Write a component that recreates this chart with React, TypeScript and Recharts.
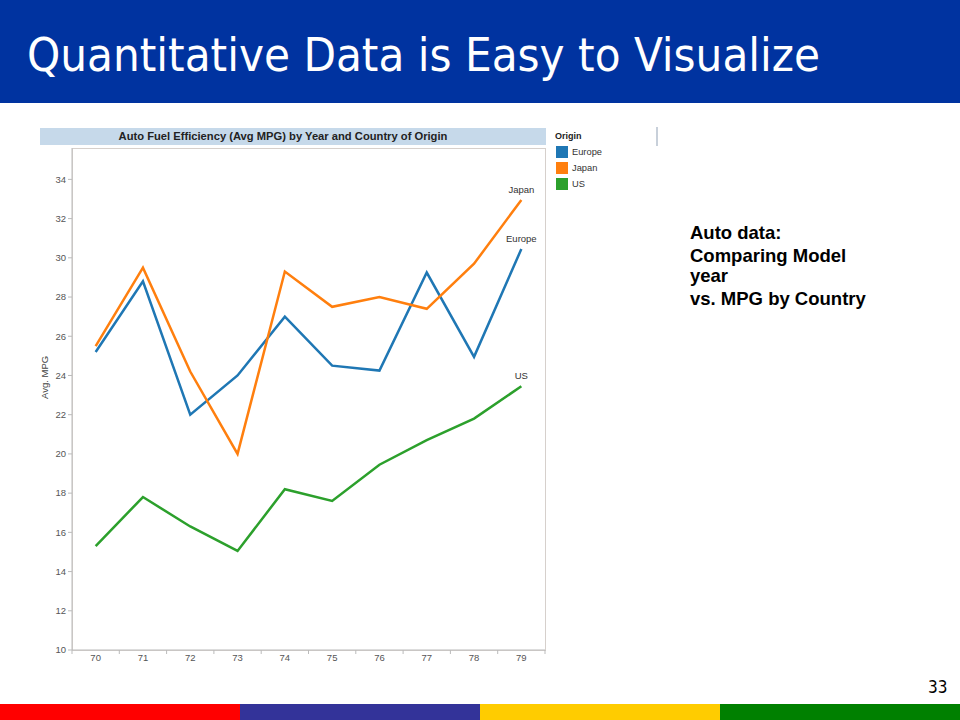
import { LineChart, Line, XAxis, YAxis, LabelList } from 'recharts'

const years = ['70', '71', '72', '73', '74', '75', '76', '77', '78', '79']
const europe = [25.2, 28.8, 22.0, 24.0, 27.0, 24.5, 24.25, 29.25, 24.95, 30.45]
const japan = [25.5, 29.5, 24.2, 20.0, 29.3, 27.5, 28.0, 27.4, 29.7, 32.95]
const us = [15.3, 17.8, 16.3, 15.05, 18.2, 17.6, 19.45, 20.7, 21.8, 23.45]
const yTicks = [10, 12, 14, 16, 18, 20, 22, 24, 26, 28, 30, 32, 34]
const legendItems = [
  { name: 'Europe', color: '#1f77b4' },
  { name: 'Japan', color: '#ff7f0e' },
  { name: 'US', color: '#2ca02c' },
]
const stripColors = ['#ff0000', '#333399', '#ffcc00', '#008000']

const data = years.map((yr, i) => ({ yr, Europe: europe[i], Japan: japan[i], US: us[i] }))

const FONT = '"Liberation Sans", Arial, sans-serif'
const SLIDE_FONT = '"DejaVu Sans Condensed", "DejaVu Sans", sans-serif'

function XTick(props: any) {
  const { x, y, payload, index } = props
  const half = payload?.offset || 23.65
  return (
    <g>
      <line x1={x - half} y1={y - 8} x2={x - half} y2={y - 4} stroke="#bbb" />
      {index === years.length - 1 && <line x1={x + half} y1={y - 8} x2={x + half} y2={y - 4} stroke="#bbb" />}
      <text x={x} y={y + 3} textAnchor="middle" fill="#555" fontSize={9.5} fontFamily={FONT}>{payload.value}</text>
    </g>
  )
}

const endLabel = (name: string) => (props: any) => {
  const { x, y, index } = props
  if (index !== years.length - 1) return null
  return (
    <text x={x} y={y - 7} textAnchor="middle" fill="#333" fontSize={9.5} fontFamily={FONT}>{name}</text>
  )
}

export default function App() {
  return (
    <div style={{ position: 'absolute', left: 0, top: 0, width: 960, height: 720, background: '#fff', overflow: 'hidden', fontFamily: FONT }}>
      {/* slide header */}
      <div style={{ position: 'absolute', left: 0, top: 0, width: 960, height: 103, background: '#0033a0' }} />
      <div style={{ position: 'absolute', left: 27, top: 27, color: '#fff', fontSize: 47, fontFamily: SLIDE_FONT, lineHeight: '56px', whiteSpace: 'nowrap' }}>
        Quantitative Data is Easy to Visualize
      </div>

      {/* chart title bar */}
      <div style={{ position: 'absolute', left: 40, top: 128, width: 486, paddingRight: 20, height: 17, background: '#c6d9ea', color: '#222', fontSize: 11.2, fontWeight: 'bold', textAlign: 'center', lineHeight: '17px', whiteSpace: 'nowrap' }}>
        Auto Fuel Efficiency (Avg MPG) by Year and Country of Origin
      </div>

      {/* plot frame */}
      <div style={{ position: 'absolute', left: 72, top: 148, width: 472, height: 501, border: '1px solid #d6d0cc' }} />

      <div style={{ position: 'absolute', left: 30, top: 140 }}>
        <LineChart width={640} height={530} data={data} margin={{ top: 8, right: 125, bottom: 0, left: 12 }}>
          <XAxis dataKey="yr" scale="band" height={20} tickLine={false} axisLine={{ stroke: '#bbb' }} tick={<XTick />} interval={0} />
          <YAxis
            width={30}
            domain={[10, 35.6]}
            ticks={yTicks}
            allowDataOverflow
            tick={{ fill: '#555', fontSize: 9.5, fontFamily: FONT }}
            tickLine={{ stroke: '#bbb' }}
            tickSize={4}
            axisLine={{ stroke: '#bbb' }}
            label={{ value: 'Avg. MPG', angle: -90, position: 'insideLeft', offset: 3, fill: '#444', fontSize: 9.5, fontFamily: FONT }}
          />
          {legendItems.map((s) => (
            <Line key={s.name} dataKey={s.name} stroke={s.color} strokeWidth={2.5} dot={false} isAnimationActive={false} type="linear">
              <LabelList content={endLabel(s.name)} />
            </Line>
          ))}
        </LineChart>
      </div>

      {/* legend */}
      <div style={{ position: 'absolute', left: 555, top: 131, fontSize: 9, fontWeight: 'bold', color: '#222' }}>Origin</div>
      {legendItems.map((s, i) => (
        <div key={s.name} style={{ position: 'absolute', left: 556, top: 146 + i * 16, display: 'flex', alignItems: 'center' }}>
          <div style={{ width: 12, height: 12, background: s.color }} />
          <span style={{ marginLeft: 4, fontSize: 9.3, color: '#333' }}>{s.name}</span>
        </div>
      ))}
      <div style={{ position: 'absolute', left: 656, top: 127, width: 2, height: 19, background: '#c8d0da' }} />

      {/* side note */}
      <div style={{ position: 'absolute', left: 690, top: 223, fontSize: 18.5, fontWeight: 'bold', color: '#000', lineHeight: '20px', whiteSpace: 'nowrap' }}>
        <div>Auto data:</div>
        <div style={{ marginTop: 3 }}>Comparing Model<br />year</div>
        <div style={{ marginTop: 3 }}>vs. MPG by Country</div>
      </div>

      {/* page number */}
      <div style={{ position: 'absolute', left: 928, top: 677, fontSize: 17, fontFamily: SLIDE_FONT, color: '#000' }}>33</div>

      {/* colour strip */}
      {stripColors.map((c, i) => (
        <div key={c} style={{ position: 'absolute', left: i * 240, top: 704, width: 240, height: 16, background: c }} />
      ))}
    </div>
  )
}
